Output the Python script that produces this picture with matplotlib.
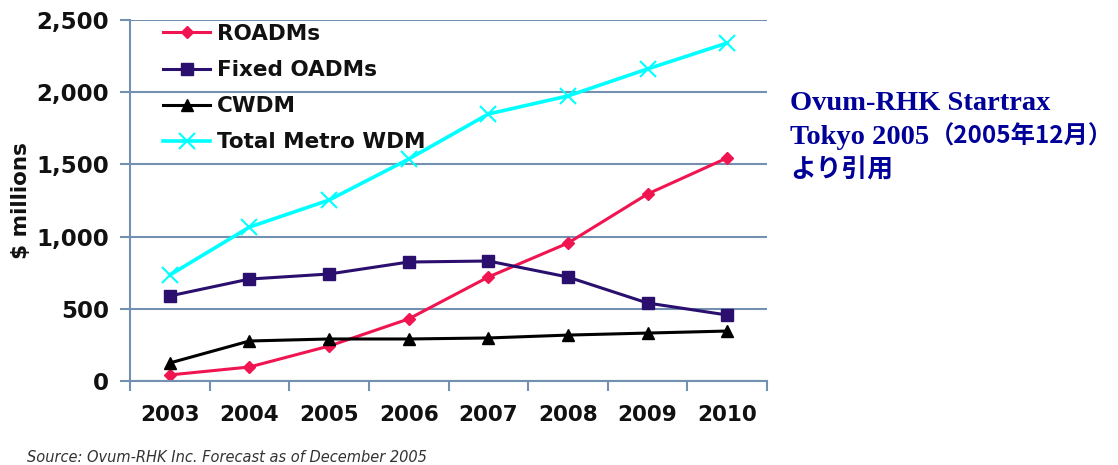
import matplotlib
matplotlib.use("Agg")
import matplotlib.pyplot as plt
import numpy as np

years = ["2003", "2004", "2005", "2006", "2007", "2008", "2009", "2010"]
roadms = [42, 97, 242, 430, 720, 955, 1295, 1545]
fixed_oadms = [589, 706, 741, 824, 831, 720, 540, 457]
cwdm = [125, 277, 291, 291, 298, 318, 332, 346]
total_metro = [734, 1066, 1253, 1537, 1849, 1974, 2161, 2341]
yticks = [0, 500, 1000, 1500, 2000, 2500]
ytick_labels = ["0", "500", "1,000", "1,500", "2,000", "2,500"]

W, H = 1118, 465
fig = plt.figure(figsize=(W / 100, H / 100), dpi=100)
ax = fig.add_axes([130 / W, 1 - 381 / H, (767 - 130) / W, (381 - 20) / H])

x = np.arange(len(years))
grid_c = "#7390b0"

l1, = ax.plot(x, roadms, color="#f01450", lw=2.2, marker="D", ms=6.5, label="ROADMs")
l2, = ax.plot(x, fixed_oadms, color="#2a0f6e", lw=2.2, marker="s", ms=8.5, label="Fixed OADMs")
l3, = ax.plot(x, cwdm, color="black", lw=2.2, marker="^", ms=9, label="CWDM")
l4, = ax.plot(x, total_metro, color="#00ffff", lw=2.6, marker="x", ms=11, mew=1.5, label="Total Metro WDM")

ax.set_xlim(-0.5, len(years) - 0.5)
ax.set_ylim(0, 2500)
ax.set_yticks(yticks)
ax.set_yticklabels(ytick_labels)
ax.set_xticks(x)
ax.set_xticklabels(years)
ax.set_xticks(np.arange(len(years) + 1) - 0.5, minor=True)
ax.tick_params(axis="x", which="major", length=0, pad=17, labelsize=15.5, colors="black")
ax.tick_params(axis="x", which="minor", length=7, width=1.5, color=grid_c, direction="out")
ax.tick_params(axis="y", length=7, width=1.5, color=grid_c, direction="out", pad=8, labelsize=16.5)
for lab in ax.get_xticklabels() + ax.get_yticklabels():
    lab.set_fontweight("semibold")
    lab.set_color("#111111")

ax.yaxis.grid(True, color=grid_c, lw=1.5)
ax.set_axisbelow(True)
for s in ["top", "right"]:
    ax.spines[s].set_visible(False)
for s in ["left", "bottom"]:
    ax.spines[s].set_color(grid_c)
    ax.spines[s].set_linewidth(1.5)

ax.set_ylabel("$ millions", fontsize=15.5, fontweight="semibold", color="#111111")
ax.yaxis.set_label_coords(-0.155, 0.5)

leg = ax.legend(handles=[l1, l2, l3, l4], loc="upper left", bbox_to_anchor=(0.052, 0.989),
                frameon=False, fontsize=15.5, handlelength=2.2, handletextpad=0.3,
                labelspacing=0.75, borderaxespad=0, borderpad=0)
for t in leg.get_texts():
    t.set_fontweight("semibold")
    t.set_color("#111111")

fig.text(27 / W, 1 - 457 / H, "Source: Ovum-RHK Inc. Forecast as of December 2005",
         fontsize=10.5, style="italic", color="#333333", va="center", ha="left")

navy = "#000099"
fig.text(790 / W, 1 - 104 / H, "Ovum-RHK Startrax", fontsize=20.5, fontweight="bold",
         family="Liberation Serif", color=navy, va="center", ha="left")
tokyo = fig.text(790 / W, 1 - 137 / H, "Tokyo 2005", fontsize=20.5, fontweight="bold",
                 family="Liberation Serif", color=navy, va="center", ha="left")
renderer = fig.canvas.get_renderer()
bb = tokyo.get_window_extent(renderer=renderer)
fig.text((bb.x1 + 1) / W, 1 - 137 / H, "（2005年12月）", fontsize=17.5, fontweight="bold",
         family=["Noto Sans CJK JP", "DejaVu Sans"], color=navy, va="center", ha="left")
fig.text(790 / W, 1 - 170 / H, "より引用", fontsize=18.5, fontweight="bold",
         family=["Noto Sans CJK JP", "DejaVu Sans"], color=navy, va="center", ha="left")

fig.savefig("out.png", dpi=100)
